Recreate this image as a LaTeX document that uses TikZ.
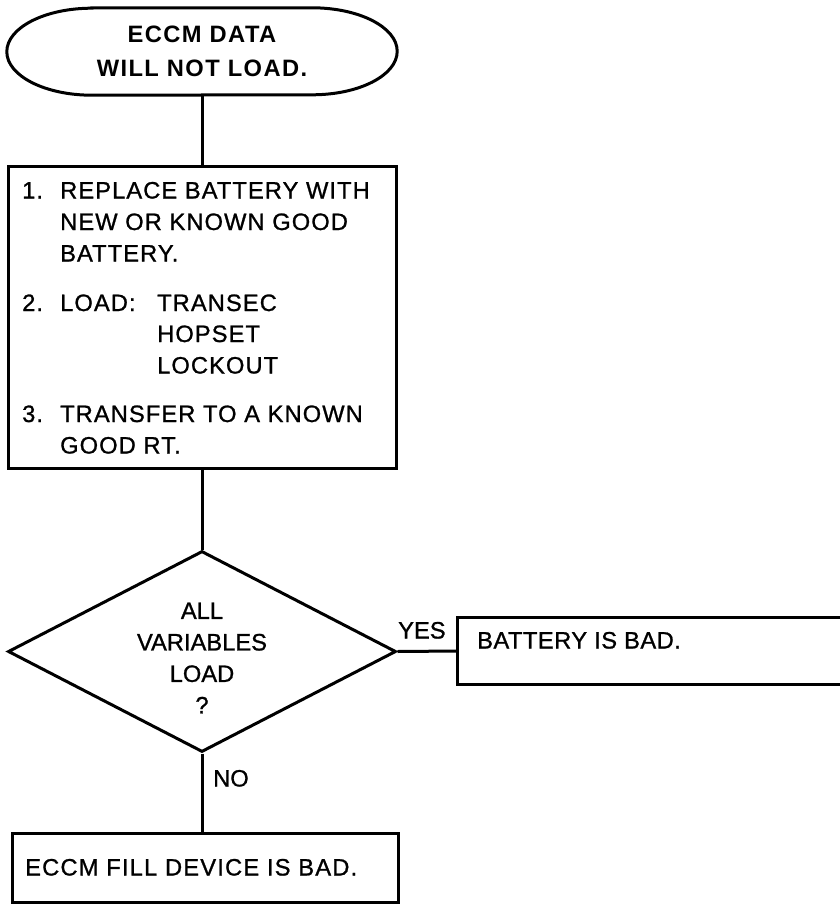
\documentclass[tikz,border=0pt]{standalone}
\usepackage{fontspec}
\setmainfont[FakeBold=1]{Liberation Sans}
\newfontfamily\bodyLS[LetterSpace=4.5,FakeBold=1]{Liberation Sans}
\newfontfamily\termLS[LetterSpace=6]{Liberation Sans}
\newfontfamily\badLS[LetterSpace=2,FakeBold=1]{Liberation Sans}
\newfontfamily\fillLS[LetterSpace=5,FakeBold=1]{Liberation Sans}
\usetikzlibrary{shapes.geometric}
\begin{document}
\begin{tikzpicture}[x=1pt,y=-1pt,
  ln/.style={line width=3pt, line join=miter},
  fs/.style={font=#1\fontsize{23.7}{31.5}\selectfont},
  lbl/.style={inner sep=0pt, anchor=base west, fs=\bodyLS},
  plain/.style={inner sep=0pt, anchor=base west, fs=\rmfamily},
  boxnode/.style={draw, ln, inner sep=0pt, rectangle}]
\useasboundingbox (0,0) rectangle (839,904);
% terminal
\node[inner sep=0pt, minimum width=390pt, minimum height=87pt, align=center,
      font=\termLS\bfseries\fontsize{23.7}{34}\selectfont] (term) at (202,51.5) {ECCM DATA\\WILL NOT LOAD.};
\draw[ln] ([xshift=85pt]term.north west) -- ([xshift=-85pt]term.north east)
  arc[start angle=90, end angle=-90, x radius=85pt, y radius=43.5pt]
  -- ([xshift=85pt]term.south west)
  arc[start angle=270, end angle=90, x radius=85pt, y radius=43.5pt] -- cycle;
% steps box
\node[boxnode, minimum width=388pt, minimum height=301pt] (steps) at (202,317.5) {};
\node[lbl] (n1) at (22,198.5) {1.};
\node[lbl] (l1) at (60,198.5) {REPLACE BATTERY WITH};
\node[lbl] (l2) at (60,230) {NEW OR KNOWN GOOD};
\node[lbl] (l3) at (60,261.5) {BATTERY.};
\node[lbl] (n2) at (22,311) {2.};
\node[lbl] (l4) at (60,311) {LOAD:};
\node[lbl] (l4b) at (157,311) {TRANSEC};
\node[lbl] (l5) at (157,342) {HOPSET};
\node[lbl] (l6) at (157,373.5) {LOCKOUT};
\node[lbl] (n3) at (22,422) {3.};
\node[lbl] (l7) at (60,422) {TRANSFER TO A KNOWN};
\node[lbl] (l8) at (60,453.5) {GOOD RT.};
% decision
\node[diamond, draw, ln, inner sep=0pt, minimum width=388pt, minimum height=201pt] (dec) at (202,651.5) {};
\node[inner sep=0pt, align=center, fs=\rmfamily] (dectext) at (202,658) {ALL\\VARIABLES\\LOAD\\?};
% yes box (open on the right)
\node[inner sep=0pt, minimum width=384pt, minimum height=67pt] (yesbox) at (650,651) {};
\draw[ln] (yesbox.north east) -- (yesbox.north west) -- (yesbox.south west) -- (yesbox.south east);
\node[inner sep=0pt, anchor=base west, fs=\badLS] (yestext) at (477,648.5) {BATTERY IS BAD.};
% no box
\node[boxnode, minimum width=386pt, minimum height=69pt] (nobox) at (205,867.5) {};
\node[inner sep=0pt, anchor=base west, fs=\fillLS] (notext) at (25,875.5) {ECCM FILL DEVICE IS BAD.};
% connectors
\draw[ln] (term.south) -- (steps.north);
\draw[ln] (steps.south) -- (dec.north);
\draw[ln] (dec.east) -- (yesbox.west);
\draw[ln] (dec.south) -- (dec.south |- nobox.north);
% labels
\node[plain] (yes) at (398,638.5) {YES};
\node[plain] (no) at (213,786.5) {NO};
\end{tikzpicture}
\end{document}
